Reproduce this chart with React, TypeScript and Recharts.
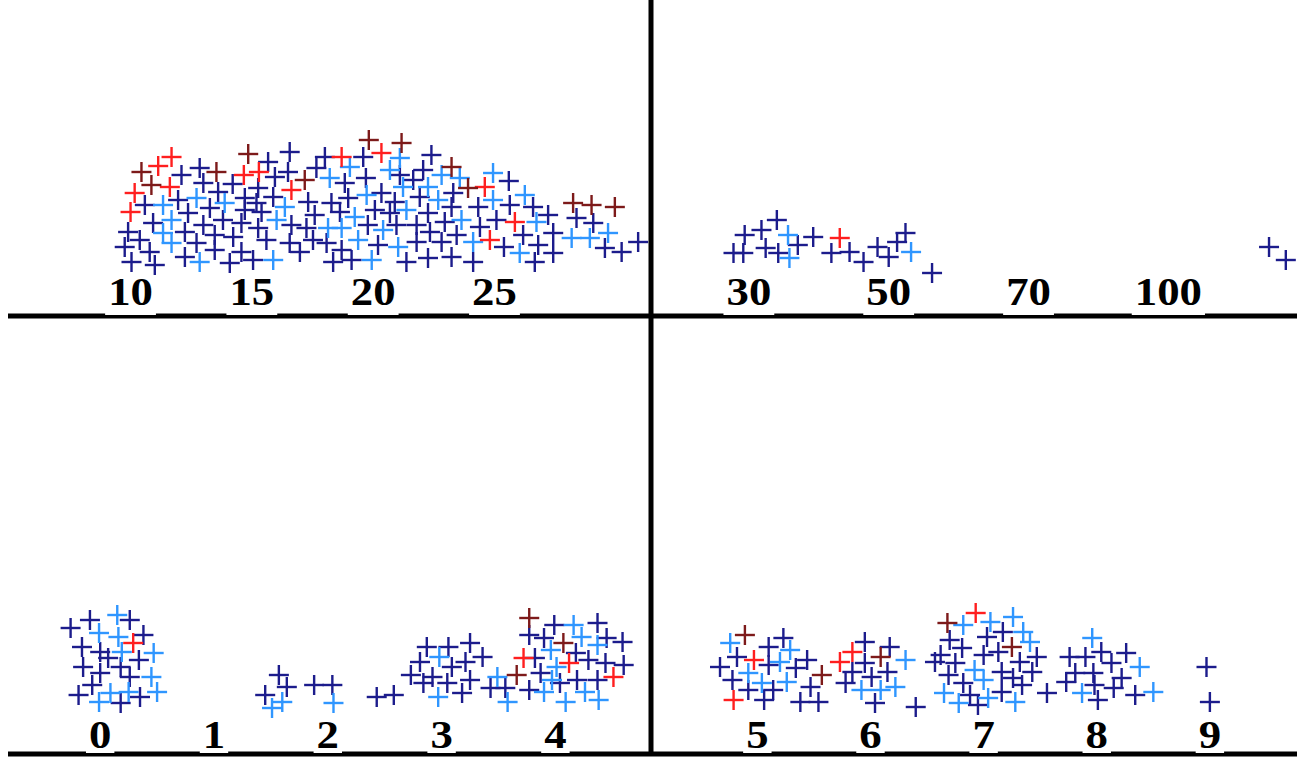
import React from "react"
import { ScatterChart, Scatter, XAxis, YAxis, ReferenceLine } from "recharts"

type Pt = [number, number]

const NAVY = "#1c1c8c"
const SKY = "#2f96ff"
const RED = "#ff1f1f"
const MAROON = "#7d1a1a"

// top left: numeric scale 10..25
const TL_TICKS = [10, 15, 20, 25]
const TL_NAVY: Pt[] = [
    [12.1, 14.1], [12.85, 14.8], [13.0, 13.3], [13.61, 12.4], [14.21, 13.2], [10.59, 11.1], [11.96, 11.6], [12.37, 10.3],
    [13.27, 10.8], [13.81, 9.6], [10.93, 9.3], [9.9, 8.4], [10.38, 7.6], [9.76, 6.9], [10.79, 6.4], [12.24, 8.4],
    [13.0, 9.1], [13.47, 8.1], [12.72, 7.3], [13.47, 6.6], [12.24, 5.9], [10.04, 5.4], [11.0, 5.1], [14.09, 5.3], [14.23, 7.9],
    [16.56, 16.4], [15.67, 15.4], [16.49, 14.4], [15.95, 13.9], [18.01, 15.9], [17.66, 14.8], [19.59, 15.9], [18.83, 13.3],
    [19.7, 13.8], [15.26, 12.8], [14.71, 11.8], [15.88, 11.9], [17.32, 11.4], [18.28, 11.3], [18.97, 11.8], [15.19, 11.3],
    [14.71, 10.6], [15.4, 10.4], [17.59, 10.1], [18.63, 10.4], [14.57, 9.3], [15.26, 8.8], [16.63, 9.1], [17.25, 8.8],
    [15.6, 7.6], [17.52, 7.6], [16.56, 7.3], [18.08, 7.3], [18.7, 6.6], [14.57, 6.4], [16.98, 6.4], [15.05, 5.6],
    [18.35, 5.4], [19.11, 5.6], [19.78, 9.1],
    [22.4, 16.1], [21.1, 14.1], [22.06, 14.6], [21.65, 13.6], [20.34, 12.3], [20.89, 11.4], [21.92, 11.9], [23.3, 12.3],
    [23.23, 10.9], [24.33, 10.9], [20.07, 10.6], [20.69, 10.3], [22.26, 10.3], [20.96, 9.1], [21.79, 9.1], [22.95, 9.4],
    [22.34, 8.4], [23.44, 8.1], [24.4, 8.9], [25.08, 9.6], [25.59, 13.5], [20.2, 7.1], [21.79, 7.4], [22.82, 7.4],
    [21.37, 5.4], [22.26, 5.8], [23.23, 5.9], [24.12, 5.4], [25.39, 6.9],
    [25.63, 11.1], [26.59, 10.9], [27.21, 10.1], [28.38, 9.8], [29.07, 9.3], [26.18, 8.1], [27.42, 8.3], [26.8, 7.1],
    [29.55, 6.8], [30.24, 6.4], [30.92, 7.4], [27.42, 6.3], [26.66, 5.4],
]
const TL_SKY: Pt[] = [
    [11.34, 11.1], [12.72, 11.8], [13.88, 11.3], [11.69, 9.6], [11.34, 8.3], [11.69, 7.3], [12.85, 5.4], [19.04, 14.9],
    [18.21, 13.8], [16.36, 10.9], [16.02, 9.6], [18.14, 8.8], [18.7, 8.8], [19.24, 9.9], [19.73, 12.1], [19.38, 7.6],
    [15.88, 5.6], [19.94, 5.6], [21.1, 15.8], [20.69, 14.6], [22.82, 14.1], [23.57, 13.8], [24.94, 14.3], [21.23, 12.9],
    [22.26, 12.9], [22.68, 11.6], [21.37, 10.6], [24.94, 11.6], [23.64, 9.6], [20.41, 8.6], [21.03, 6.9], [24.12, 7.4],
    [26.25, 12.1], [26.73, 9.4], [28.18, 7.8], [28.93, 7.8], [29.68, 8.3], [26.04, 6.3],
]
const TL_RED: Pt[] = [
    [11.69, 15.9], [11.14, 15.0], [11.62, 12.9], [10.17, 12.3], [10.0, 10.4], [14.67, 14.1], [15.29, 14.4], [16.63, 12.6],
    [18.7, 15.9], [20.34, 16.3], [24.6, 12.9], [24.81, 7.6], [25.84, 9.4],
]
const TL_MAROON: Pt[] = [
    [10.45, 14.4], [13.54, 14.4], [10.86, 13.1], [14.85, 16.2], [17.18, 13.6], [19.82, 17.6], [21.17, 17.3], [23.23, 14.9],
    [23.91, 12.8], [28.24, 11.3], [29.0, 11.1], [29.96, 10.9],
]

// top right: category steps 30, 50, 70, 100
const TR_LABELS = ["30", "50", "70", "100"]
const TR_NAVY: Pt[] = [
    [-0.11, 6.3], [-0.04, 6.3], [-0.03, 8.1], [0.09, 8.6], [0.2, 9.6], [0.12, 6.8], [0.21, 6.3], [0.35, 7.1], [0.46, 7.9],
    [0.59, 6.3], [0.72, 6.4], [0.82, 5.4], [0.92, 6.9], [1.0, 5.9], [1.06, 7.4], [1.12, 8.3], [1.31, 4.3], [3.72, 6.9], [3.84, 5.6],
]
const TR_SKY: Pt[] = [[0.28, 8.1], [0.29, 5.8], [1.16, 6.4]]
const TR_RED: Pt[] = [[0.65, 7.8]]

// bottom left: 0..4
const BL_TICKS = [0, 1, 2, 3, 4]
const BL_NAVY: Pt[] = [
    [-0.26, 12.6], [-0.09, 13.4], [0.26, 13.4], [0.38, 11.9], [-0.16, 10.7], [0.0, 10.2], [0.07, 9.6], [0.34, 9.4],
    [-0.15, 8.7], [0.0, 8.1], [0.18, 8.7], [0.26, 7.7], [-0.07, 6.9], [-0.19, 5.9], [0.35, 5.7], [0.18, 5.1],
    [1.57, 7.9], [1.64, 6.7], [1.45, 5.9], [1.88, 6.9], [2.04, 6.9], [2.43, 5.7], [2.58, 5.9],
    [2.87, 10.7], [2.81, 9.2], [2.73, 7.9], [2.92, 7.7], [2.84, 7.1], [3.06, 10.7], [3.25, 11.1], [3.36, 9.7], [3.21, 9.2],
    [3.09, 8.7], [3.25, 7.4], [3.05, 7.1], [3.18, 6.1], [3.43, 6.6], [3.56, 6.6],
    [3.77, 11.9], [3.99, 12.9], [4.37, 13.1], [3.9, 11.6], [4.45, 11.6], [4.59, 11.2], [3.82, 9.6], [4.18, 10.1],
    [4.29, 9.4], [4.44, 9.1], [4.6, 8.9], [3.87, 8.1], [4.04, 7.1], [4.19, 7.4], [4.37, 7.4], [3.77, 6.4],
]
const BL_SKY: Pt[] = [
    [0.15, 13.9], [-0.01, 12.1], [0.16, 11.7], [0.19, 10.2], [0.47, 10.1], [0.45, 7.7], [0.09, 6.1], [0.25, 6.2],
    [0.5, 6.2], [-0.01, 5.2], [1.6, 5.2], [1.51, 4.6], [2.05, 5.1], [2.98, 9.7], [2.97, 5.7], [3.49, 7.7], [3.58, 5.2],
    [4.16, 12.9], [4.23, 11.7], [4.37, 10.9], [3.96, 10.4], [4.01, 8.7], [3.97, 7.4], [3.9, 6.2], [4.26, 6.2],
    [4.09, 5.2], [4.38, 5.4],
]
const BL_RED: Pt[] = [[0.29, 11.1], [3.72, 9.6], [4.12, 9.1], [4.51, 7.7]]
const BL_MAROON: Pt[] = [[3.66, 7.9], [3.77, 13.6], [4.07, 11.1]]

// bottom right: 5..9
const BR_TICKS = [5, 6, 7, 8, 9]
const BR_NAVY: Pt[] = [
    [5.1, 10.7], [5.23, 11.6], [4.82, 9.7], [4.67, 8.7], [5.1, 8.9], [5.34, 8.6], [5.44, 9.4], [4.78, 7.4], [4.92, 6.4],
    [5.14, 6.4], [5.47, 6.7], [5.06, 5.4], [5.38, 5.2], [5.54, 5.2],
    [5.95, 11.2], [6.17, 10.7], [5.95, 9.1], [5.84, 8.2], [6.15, 8.2], [6.01, 7.7], [5.78, 7.1], [6.04, 5.1], [6.4, 4.7],
    [7.03, 11.7], [7.17, 12.2], [6.7, 11.4], [6.81, 10.6], [6.62, 9.9], [7.0, 9.9], [7.13, 10.2], [7.47, 9.7], [6.57, 9.2],
    [6.75, 9.1], [7.32, 9.2], [7.16, 8.2], [7.43, 8.2], [6.69, 7.9], [7.26, 7.6], [6.82, 7.1], [7.34, 6.9], [7.16, 6.2],
    [6.88, 5.9], [6.95, 4.9], [7.56, 6.1],
    [7.76, 9.7], [7.9, 9.7], [8.04, 10.2], [8.26, 10.1], [8.13, 9.1], [7.81, 8.1], [7.97, 8.1], [7.73, 7.2], [8.22, 7.6],
    [7.98, 6.9], [8.15, 6.6], [8.01, 5.4], [8.34, 5.9], [8.97, 8.7], [9.0, 5.2],
]
const BR_SKY: Pt[] = [
    [4.76, 11.1], [5.29, 10.4], [5.2, 9.2], [4.92, 8.1], [5.04, 7.1], [5.26, 7.2], [6.31, 9.4], [5.92, 6.4], [6.09, 6.4],
    [6.22, 6.7], [6.82, 12.9], [7.06, 13.2], [7.26, 13.7], [7.35, 12.2], [7.41, 11.2], [6.92, 8.4], [7.0, 7.4], [6.65, 6.1],
    [7.04, 5.6], [6.78, 5.1], [7.28, 5.2], [7.96, 11.6], [8.38, 8.7], [7.87, 6.1], [8.5, 6.2],
]
const BR_RED: Pt[] = [[4.97, 9.4], [4.79, 5.4], [5.84, 10.2], [5.73, 9.2], [6.93, 14.1]]
const BR_MAROON: Pt[] = [[4.89, 11.9], [5.57, 7.9], [6.09, 9.7], [6.68, 13.1], [7.25, 10.7]]

const toRows = (pts: Pt[]) => pts.map(([x, y]) => ({ x, y }))

function Cross(props: any) {
    const { cx, cy, color } = props
    if (cx == null || cy == null) return null
    return (
        <g stroke={color} strokeWidth={2.4} strokeLinecap="butt">
            <line x1={cx - 10} y1={cy} x2={cx + 10} y2={cy} />
            <line x1={cx} y1={cy - 10} x2={cx} y2={cy + 10} />
        </g>
    )
}

// bold serif labels, a bit wider than normal, on a white box that nips the axis line
function TickLabel(props: any) {
    const { x, y, text, lift } = props
    const w = text.length * 22.4 + 6
    return (
        <g>
            <rect x={x - w / 2} y={y - lift - 30} width={w} height={lift + 29} fill="#fff" />
            <text
                transform={`translate(${x},${y - lift}) scale(1.12,1)`}
                textAnchor="middle"
                fontFamily="'Liberation Serif', 'Times New Roman', serif"
                fontWeight="bold"
                fontSize={40}
                fill="#000"
            >
                {text}
            </text>
        </g>
    )
}

type Series = { pts: Pt[]; color: string }

interface PanelProps {
    left: number
    top: number
    plotWidth: number
    plotHeight: number
    xDomain: [number, number]
    yDomain: [number, number]
    ticks: number[]
    label: (v: number) => string
    lift: number
    vertical?: boolean
    series: Series[]
}

function Panel({ left, top, plotWidth, plotHeight, xDomain, yDomain, ticks, label, lift, vertical, series }: PanelProps) {
    const padL = 10
    const padR = 14
    return (
        <div style={{ position: "absolute", left: left - padL, top }}>
            <ScatterChart
                width={plotWidth + padL + padR}
                height={plotHeight + 6}
                margin={{ top: 0, right: padR, bottom: 0, left: padL }}
            >
                <XAxis
                    type="number"
                    dataKey="x"
                    domain={xDomain}
                    ticks={ticks}
                    interval={0}
                    height={6}
                    tickSize={0}
                    tickMargin={0}
                    tickLine={false}
                    axisLine={{ stroke: "#000", strokeWidth: 5 }}
                    tick={(p: any) => <TickLabel x={p.x} y={p.y} text={label(p.payload.value)} lift={lift} />}
                />
                <YAxis type="number" dataKey="y" domain={yDomain} hide width={0} />
                {vertical && (
                    <ReferenceLine x={xDomain[0]} stroke="#000" strokeWidth={5} ifOverflow="visible" />
                )}
                {series.map((s, i) => (
                    <Scatter
                        key={i}
                        data={toRows(s.pts)}
                        fill={s.color}
                        isAnimationActive={false}
                        shape={(p: any) => <Cross cx={p.cx} cy={p.cy} color={s.color} />}
                    />
                ))}
            </ScatterChart>
        </div>
    )
}

export default function App() {
    return (
        <div style={{ position: "absolute", left: 0, top: 0, width: 1304, height: 757, overflow: "hidden", background: "#fff" }}>
            <Panel
                left={8}
                top={0}
                plotWidth={643}
                plotHeight={316}
                xDomain={[4.95, 31.45]}
                yDomain={[0, 31.6]}
                ticks={TL_TICKS}
                label={(v) => String(v)}
                lift={11}
                series={[
                    { pts: TL_NAVY, color: NAVY },
                    { pts: TL_SKY, color: SKY },
                    { pts: TL_RED, color: RED },
                    { pts: TL_MAROON, color: MAROON },
                ]}
            />
            <Panel
                left={651}
                top={0}
                plotWidth={646}
                plotHeight={316}
                xDomain={[-0.7, 3.92]}
                yDomain={[0, 31.6]}
                ticks={[0, 1, 2, 3]}
                label={(v) => TR_LABELS[v]}
                lift={11}
                vertical
                series={[
                    { pts: TR_NAVY, color: NAVY },
                    { pts: TR_SKY, color: SKY },
                    { pts: TR_RED, color: RED },
                ]}
            />
            <Panel
                left={8}
                top={318}
                plotWidth={643}
                plotHeight={436}
                xDomain={[-0.81, 4.84]}
                yDomain={[0, 43.6]}
                ticks={BL_TICKS}
                label={(v) => String(v)}
                lift={6}
                series={[
                    { pts: BL_NAVY, color: NAVY },
                    { pts: BL_SKY, color: SKY },
                    { pts: BL_RED, color: RED },
                    { pts: BL_MAROON, color: MAROON },
                ]}
            />
            <Panel
                left={651}
                top={318}
                plotWidth={646}
                plotHeight={436}
                xDomain={[4.06, 9.77]}
                yDomain={[0, 43.6]}
                ticks={BR_TICKS}
                label={(v) => String(v)}
                lift={6}
                vertical
                series={[
                    { pts: BR_NAVY, color: NAVY },
                    { pts: BR_SKY, color: SKY },
                    { pts: BR_RED, color: RED },
                    { pts: BR_MAROON, color: MAROON },
                ]}
            />
        </div>
    )
}
